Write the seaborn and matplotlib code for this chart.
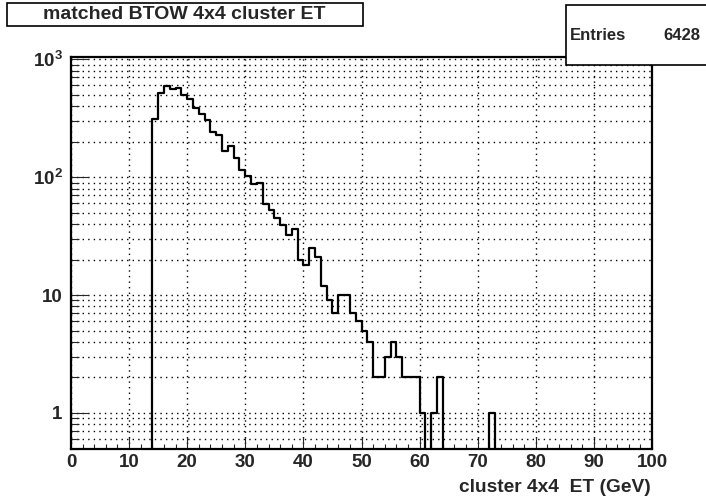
import numpy as np
import pandas as pd
import matplotlib
matplotlib.use("Agg")
import matplotlib.pyplot as plt
from matplotlib.patches import Rectangle
from matplotlib.ticker import FixedLocator, NullFormatter, MultipleLocator
import seaborn as sns

# Histogram contents, 1 GeV bins (lower bin edge in GeV)
et_bins = list(range(14, 64)) + [72]
counts = [311, 516, 597, 560, 575, 499, 459, 385, 345, 307,
          240, 229, 166, 183, 146, 115, 102, 87, 90, 59,
          53, 45, 39, 32, 36, 20, 18, 25, 21, 12,
          9, 7, 10, 10, 7, 6, 5, 4, 2, 2,
          3, 4, 3, 2, 2, 2, 1, 0, 1, 2,
          1]
entries = 6428

y_ticks = [1, 10, 100, 1000]
y_tick_labels = ["1", "10", r"$10^{2}$", r"$10^{3}$"]
x_ticks = list(range(0, 101, 10))

df = pd.DataFrame({"et": np.array(et_bins) + 0.5, "n": counts})

sns.set_style("white")
plt.rcParams["font.family"] = ["Liberation Sans", "DejaVu Sans"]
plt.rcParams["font.weight"] = "bold"
plt.rcParams["mathtext.fontset"] = "custom"
plt.rcParams["mathtext.bf"] = "Liberation Sans:bold"
plt.rcParams["mathtext.rm"] = "Liberation Sans:bold"
plt.rcParams["mathtext.default"] = "bf"

fig = plt.figure(figsize=(7.06, 4.98), dpi=100)
ax = fig.add_axes([71 / 706, (498 - 448.5) / 498, 581 / 706, 391.5 / 498])

sns.histplot(data=df, x="et", weights="n", binwidth=1, binrange=(0, 100),
             element="step", fill=False, color="black", linewidth=1.6, ax=ax)
ax.set_yscale("log")
ax.set_xlim(0, 100)
ax.set_ylim(0.5, 1044)

# grid, ROOT style dotted
dots = (0, (1, 3))
ax.xaxis.set_major_locator(FixedLocator(x_ticks))
ax.xaxis.set_minor_locator(MultipleLocator(2))
ax.set_yticks(y_ticks)
ax.set_yticklabels(y_tick_labels)
minor_y = [m * 10.0 ** e for e in range(-1, 4) for m in range(2, 10)]
ax.yaxis.set_minor_locator(FixedLocator(minor_y))
ax.yaxis.set_minor_formatter(NullFormatter())
ax.grid(True, which="major", axis="both", color="black", linestyle=dots, linewidth=1.0)
ax.grid(True, which="minor", axis="y", color="black", linestyle=dots, linewidth=1.0)
ax.set_axisbelow(True)

ax.tick_params(axis="x", which="major", direction="in", length=8.6, width=0.8,
               labelsize=13.5, pad=4.3, top=False, bottom=True)
ax.tick_params(axis="x", which="minor", direction="in", length=3.8, width=0.8,
               top=False, bottom=True)
ax.tick_params(axis="y", which="major", direction="in", length=12.5, width=0.8,
               labelsize=13.5, pad=6, right=False, left=True)
ax.tick_params(axis="y", which="minor", direction="in", length=6.1, width=0.8,
               right=False, left=True)
for s in ax.spines.values():
    s.set_visible(True)
    s.set_color("black")
    s.set_linewidth(1.6)

ax.set_xlabel("")
ax.set_ylabel("")
fig.text(651 / 706, 1 - 487 / 498, "cluster 4x4  ET (GeV)", ha="right", va="center",
         fontsize=13.8, fontweight="bold")

# title box
fig.patches.append(Rectangle((7 / 706, 1 - 26 / 498), 356 / 706, 23 / 498,
                             transform=fig.transFigure, facecolor="white",
                             edgecolor="black", linewidth=1.2, zorder=5))
fig.text(184 / 706, 1 - 14.5 / 498, "matched BTOW 4x4 cluster ET", ha="center",
         va="center", fontsize=14, fontweight="bold", zorder=6)

# stats box
fig.patches.append(Rectangle((566 / 706, 1 - 65 / 498), 150 / 706, 60 / 498,
                             transform=fig.transFigure, facecolor="white",
                             edgecolor="black", linewidth=1.2, zorder=5))
fig.text(570 / 706, 1 - 36 / 498, "Entries", ha="left", va="center",
         fontsize=12, fontweight="bold", zorder=6)
fig.text(700 / 706, 1 - 36 / 498, str(entries), ha="right", va="center",
         fontsize=12, fontweight="bold", zorder=6)

fig.savefig("out.png", dpi=100, facecolor="white")
